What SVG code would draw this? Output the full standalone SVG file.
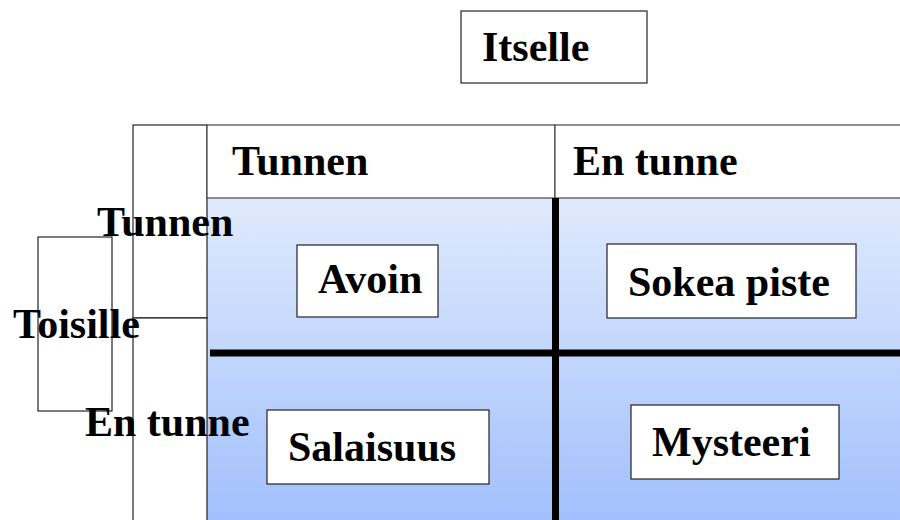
<svg xmlns="http://www.w3.org/2000/svg" width="900" height="520" viewBox="0 0 900 520">
  <style>
    .box { fill: #ffffff; stroke: #222222; stroke-width: 1.2; }
    .hdr { fill: #ffffff; stroke: #444444; stroke-width: 1.2; }
    .lbl { font-family: "Liberation Serif", "Times New Roman", serif; font-weight: bold; font-size: 42px; fill: #000000; }
    .axis { stroke: #000000; stroke-width: 7; }
  </style>
  <defs>
    <linearGradient id="quadFill" x1="0" y1="0" x2="0" y2="1">
      <stop offset="0" stop-color="#e0eafc"/>
      <stop offset="1" stop-color="#a2c0fd"/>
    </linearGradient>
  </defs>

  <!-- quadrant background -->
  <rect x="207" y="198" width="693" height="322" fill="url(#quadFill)"/>

  <!-- row header column -->
  <g id="row-column">
    <rect class="box" x="133" y="125" width="74" height="193"/>
    <rect class="box" x="133" y="318" width="74" height="210"/>
  </g>

  <!-- column headers -->
  <g id="col-header-known">
    <rect class="hdr" x="207" y="125" width="348" height="73"/>
    <text class="lbl" x="232" y="175">Tunnen</text>
  </g>
  <g id="col-header-unknown">
    <rect class="hdr" x="555" y="125" width="350" height="73"/>
    <text class="lbl" x="573" y="175">En tunne</text>
  </g>

  <!-- axis titles -->
  <g id="itselle">
    <rect class="box" x="461" y="11" width="186" height="72"/>
    <text class="lbl" x="482" y="61">Itselle</text>
  </g>
  <g id="toisille">
    <rect class="box" x="38" y="237" width="74" height="174"/>
    <text class="lbl" x="13" y="338">Toisille</text>
  </g>

  <!-- row labels -->
  <g id="row-known">
    <text class="lbl" x="97" y="236">Tunnen</text>
  </g>
  <g id="row-unknown">
    <text class="lbl" x="85" y="436">En tunne</text>
  </g>

  <!-- quadrant dividers -->
  <g id="dividers">
    <line class="axis" x1="555.5" y1="198" x2="555.5" y2="520"/>
    <line class="axis" x1="210" y1="353" x2="900" y2="353"/>
  </g>

  <!-- quadrants -->
  <g id="avoin">
    <rect class="box" x="297" y="245" width="141" height="72"/>
    <text class="lbl" x="318" y="293">Avoin</text>
  </g>
  <g id="sokea-piste">
    <rect class="box" x="607" y="244" width="249" height="74"/>
    <text class="lbl" x="628" y="296">Sokea piste</text>
  </g>
  <g id="salaisuus">
    <rect class="box" x="267" y="410" width="222" height="74"/>
    <text class="lbl" x="288" y="461">Salaisuus</text>
  </g>
  <g id="mysteeri">
    <rect class="box" x="631" y="405" width="208" height="74"/>
    <text class="lbl" x="652" y="456">Mysteeri</text>
  </g>
</svg>
